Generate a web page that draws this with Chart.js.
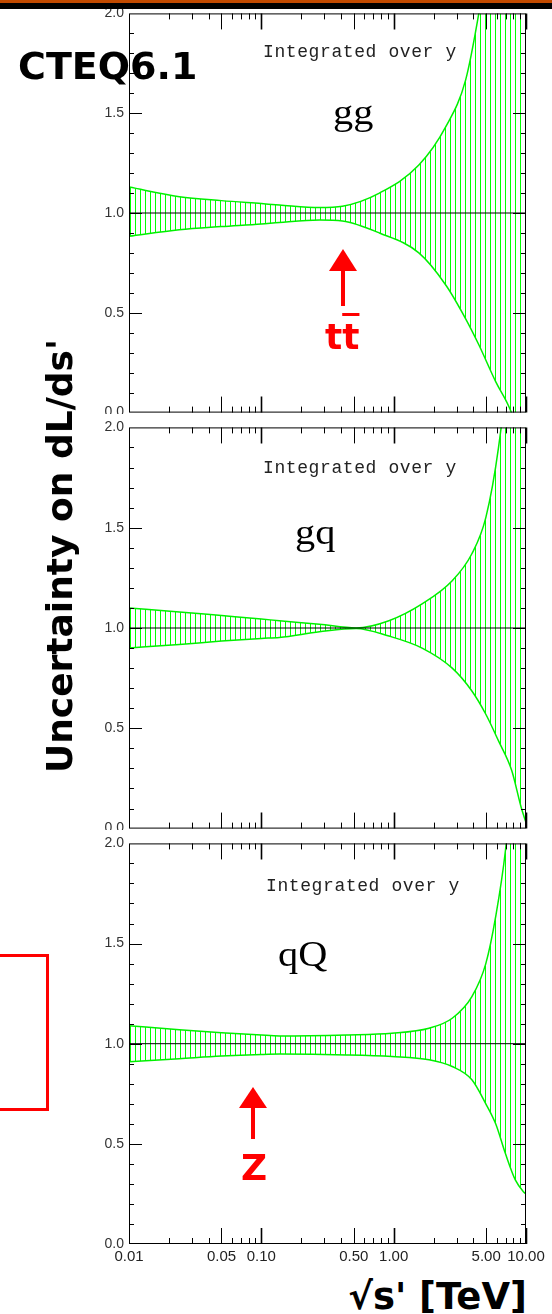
<!DOCTYPE html>
<html lang="en">
<head>
<meta charset="UTF-8">
<title>CTEQ6.1 luminosity uncertainty</title>
<script src="https://cdn.jsdelivr.net/npm/chart.js"></script>
<style>
  body { margin: 0; width: 552px; height: 1314px; background: #fff; position: relative; overflow: hidden; font-family: "DejaVu Sans", sans-serif; }
  canvas.panel { position: absolute; left: 0; background: #fff; }
  .bar-orange { position: absolute; left: 0; top: 0; width: 552px; height: 3px; background: #c24a00; z-index: 5; }
  .bar-black { position: absolute; left: 0; top: 3px; width: 552px; height: 6px; background: #000; z-index: 5; }
  .big { position: absolute; font-family: "DejaVu Sans", sans-serif; font-weight: bold; font-size: 36px; line-height: 1; white-space: nowrap; z-index: 4; }
  .integ { position: absolute; font-family: "Liberation Mono", monospace; font-size: 18px; letter-spacing: 0.6px; line-height: 18px; color: #222; white-space: nowrap; z-index: 3; }
  .proc { position: absolute; font-family: "Liberation Serif", serif; font-size: 36px; line-height: 1; color: #000; white-space: nowrap; z-index: 3; transform: scaleX(1.12); transform-origin: left; }
  .red { color: #ff0000; }
  svg.arrow { position: absolute; z-index: 3; }
  .box { position: absolute; left: -10px; top: 954px; width: 53px; height: 151px; border: 3px solid #ff0000; z-index: 3; }
</style>
</head>
<body>
<canvas id="p1" class="panel" width="552" height="426" style="top:0px"></canvas>
<canvas id="p2" class="panel" width="552" height="428" style="top:414px"></canvas>
<canvas id="p3" class="panel" width="552" height="444" style="top:830px"></canvas>

<div class="bar-orange"></div>
<div class="bar-black"></div>

<div class="big" style="left:18px; top:47px; font-size:38px;">CTEQ6.1</div>
<div class="big" style="left:60px; top:556px; transform: translate(-50%, -50%) rotate(-90deg);">Uncertainty on dL/ds'</div>
<div class="big" style="right:25px; top:1278px; font-size:37px;">√s' [TeV]</div>

<div class="integ" style="left:263px; top:43px;">Integrated over y</div>
<div class="integ" style="left:263px; top:459px;">Integrated over y</div>
<div class="integ" style="left:266px; top:877px;">Integrated over y</div>

<div class="proc" style="left:333px; top:94px;">gg</div>
<div class="proc" style="left:295px; top:514px;">gq</div>
<div class="proc" style="left:278px; top:936px;">qQ</div>

<!-- arrows and labels -->
<svg class="arrow" style="left:325px; top:245px;" width="40" height="65">
  <polygon points="18,4 4,26 32,26" fill="#ff0000"/>
  <rect x="16" y="25" width="4" height="36" fill="#ff0000"/>
</svg>
<div class="big red" style="left:325px; top:319px;">t<span style="text-decoration:overline;">t</span></div>

<svg class="arrow" style="left:235px; top:1083px;" width="40" height="60">
  <polygon points="18,4 4,25 32,25" fill="#ff0000"/>
  <rect x="16" y="24" width="4" height="32" fill="#ff0000"/>
</svg>
<div class="big red" style="left:241px; top:1150px;">Z</div>

<div class="box"></div>

<script>
// x axis: sqrt(s') in TeV, log scale
const xRange = [0.01, 10];
const xTickLabels = [0.01, 0.05, 0.1, 0.5, 1, 5, 10];
const xMajorTicks = [0.05, 0.1, 0.5, 1, 5, 10];
const xMinorTicks = [0.02, 0.03, 0.04, 0.06, 0.07, 0.08, 0.09,
                     0.2, 0.3, 0.4, 0.6, 0.7, 0.8, 0.9,
                     2, 3, 4, 6, 7, 8, 9];
const yTickLabels = [0, 0.5, 1, 1.5, 2];
const refLevel = 1.0;

// gg
const ggX  = [0.01, 0.024, 0.05, 0.1, 0.137, 0.275, 0.41, 0.78, 1.55, 2.49, 3.5, 4.4, 5.9, 7.7, 10];
const ggUp = [1.13, 1.082, 1.062, 1.047, 1.040, 1.027, 1.034, 1.10, 1.24, 1.435, 1.667, 2.0, 2.55, 3.3, 4.3];
const ggLo = [0.883, 0.916, 0.932, 0.945, 0.953, 0.965, 0.960, 0.90, 0.80, 0.637, 0.47, 0.34, 0.155, 0.005, -0.25];

// gq
const gqX  = [0.01, 0.024, 0.05, 0.1, 0.137, 0.275, 0.52, 0.92, 1.64, 2.77, 3.9, 4.97, 6.2, 7.8, 9.2, 10];
const gqUp = [1.10, 1.08, 1.062, 1.045, 1.036, 1.019, 1.0, 1.036, 1.12, 1.235, 1.37, 1.55, 1.90, 2.5, 3.2, 3.6];
const gqLo = [0.90, 0.918, 0.935, 0.948, 0.953, 0.981, 0.998, 0.96, 0.90, 0.80, 0.686, 0.57, 0.437, 0.29, 0.105, 0.03];

// qQ
const qqX  = [0.01, 0.024, 0.05, 0.1, 0.137, 0.44, 0.97, 1.85, 2.77, 3.9, 4.97, 5.9, 7.0, 8.3, 9.6, 10];
const qqUp = [1.09, 1.07, 1.055, 1.043, 1.039, 1.044, 1.052, 1.077, 1.127, 1.235, 1.40, 1.634, 1.967, 2.5, 3.1, 3.3];
const qqLo = [0.91, 0.925, 0.938, 0.946, 0.948, 0.944, 0.936, 0.92, 0.886, 0.82, 0.70, 0.60, 0.45, 0.32, 0.26, 0.25];

const green = '#00f000';
Chart.defaults.font.family = "'Liberation Sans', Arial, sans-serif";

// vertical hatching for the band
function hatchPattern() {
  const c = document.createElement('canvas');
  c.width = 5; c.height = 4;
  const g = c.getContext('2d');
  g.fillStyle = '#00ff00';
  g.fillRect(0, 0, 1, 4);
  return g.createPattern(c, 'repeat');
}

// frame with inside ticks on all four sides
const frameTicks = {
  id: 'frameTicks',
  afterDatasetsDraw(chart) {
    const { ctx, chartArea: a, scales: { x, y } } = chart;
    ctx.save();
    ctx.strokeStyle = '#000';
    ctx.lineWidth = 1;
    ctx.strokeRect(a.left + 0.5, a.top + 0.5, a.right - a.left - 1, a.bottom - a.top - 1);
    ctx.beginPath();
    for (let v = 0.1; v < 2; v += 0.1) {
      const py = Math.round(y.getPixelForValue(v)) + 0.5;
      const major = Math.abs(v * 2 - Math.round(v * 2)) < 1e-6;
      const len = major ? 13 : 5;
      ctx.moveTo(a.left, py); ctx.lineTo(a.left + len, py);
      ctx.moveTo(a.right, py); ctx.lineTo(a.right - len, py);
    }
    xMinorTicks.forEach(v => {
      const px = Math.round(x.getPixelForValue(v)) + 0.5;
      ctx.moveTo(px, a.bottom); ctx.lineTo(px, a.bottom - 6);
      ctx.moveTo(px, a.top); ctx.lineTo(px, a.top + 6);
    });
    ctx.stroke();
    xMajorTicks.forEach(v => {
      const px = Math.round(x.getPixelForValue(v)) + 0.5;
      const thick = (v === 0.1 || v === 1 || v === 10);
      ctx.lineWidth = thick ? 1.6 : 1;
      ctx.beginPath();
      ctx.moveTo(px, a.bottom); ctx.lineTo(px, a.bottom - 16);
      ctx.moveTo(px, a.top); ctx.lineTo(px, a.top + 16);
      ctx.stroke();
    });
    ctx.restore();
  }
};

function makePanel(id, xs, up, lo, showX, padTop, padBottom) {
  const ctx = document.getElementById(id).getContext('2d');
  return new Chart(ctx, {
    type: 'line',
    data: {
      datasets: [
        {
          data: [{ x: xRange[0], y: refLevel }, { x: xRange[1], y: refLevel }],
          borderColor: '#000', borderWidth: 1, pointRadius: 0, fill: false, order: -1, clip: 0
        },
        {
          data: xs.map((x, i) => ({ x: x, y: up[i] })),
          borderColor: green, borderWidth: 1.5, pointRadius: 0, fill: false,
          cubicInterpolationMode: 'monotone', clip: 0
        },
        {
          data: xs.map((x, i) => ({ x: x, y: lo[i] })),
          borderColor: green, borderWidth: 1.5, pointRadius: 0, fill: '-1',
          backgroundColor: hatchPattern(), cubicInterpolationMode: 'monotone', clip: 0
        }
      ]
    },
    options: {
      responsive: false,
      animation: false,
      events: [],
      layout: { padding: { left: 0, right: 26, top: padTop, bottom: padBottom } },
      plugins: { legend: { display: false }, tooltip: { enabled: false } },
      scales: {
        x: {
          type: 'logarithmic', min: xRange[0], max: xRange[1], display: showX,
          grid: { display: false, drawTicks: false }, border: { display: false },
          afterBuildTicks: s => { s.ticks = xTickLabels.map(v => ({ value: v })); },
          afterFit: s => { s.height = showX ? 30 : 0; },
          ticks: {
            autoSkip: false, maxRotation: 0, padding: 4, color: '#222',
            font: { size: 15 }, callback: v => Number(v).toFixed(2)
          }
        },
        y: {
          min: 0, max: 2,
          grid: { display: false, drawTicks: false }, border: { display: false },
          afterBuildTicks: s => { s.ticks = yTickLabels.map(v => ({ value: v })); },
          afterFit: s => { s.width = 129; },
          ticks: { padding: 5, color: '#333', font: { size: 14 }, callback: v => Number(v).toFixed(1) }
        }
      }
    },
    plugins: [frameTicks]
  });
}

makePanel('p1', ggX, ggUp, ggLo, false, 11, 8);
makePanel('p2', gqX, gqUp, gqLo, false, 13, 8);
makePanel('p3', qqX, qqUp, qqLo, true, 13, 0);
</script>
</body>
</html>
